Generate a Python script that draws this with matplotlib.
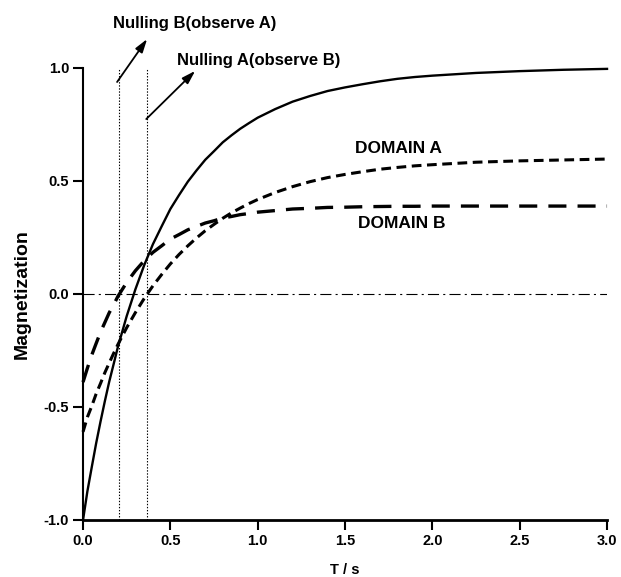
import matplotlib
matplotlib.use("Agg")
import matplotlib.pyplot as plt

# values
t_s = [0.0, 0.025, 0.05, 0.075, 0.1, 0.125, 0.15, 0.175, 0.2, 0.25, 0.3, 0.35, 0.4,
       0.45, 0.5, 0.55, 0.6, 0.65, 0.7, 0.75, 0.8, 0.85, 0.9, 0.95, 1.0, 1.1, 1.2,
       1.3, 1.4, 1.5, 1.6, 1.7, 1.8, 1.9, 2.0, 2.25, 2.5, 2.75, 3.0]
m_total = [-1.0, -0.873, -0.766, -0.661, -0.565, -0.474, -0.388, -0.311, -0.233,
           -0.098, 0.021, 0.127, 0.220, 0.299, 0.376, 0.438, 0.497, 0.547, 0.594,
           0.632, 0.671, 0.702, 0.731, 0.756, 0.780, 0.818, 0.851, 0.876, 0.898,
           0.914, 0.928, 0.941, 0.952, 0.960, 0.966, 0.978, 0.986, 0.992, 0.996]
m_domain_a = [-0.61, -0.545, -0.496, -0.442, -0.396, -0.348, -0.305, -0.263, -0.223,
              -0.149, -0.082, -0.020, 0.036, 0.086, 0.133, 0.175, 0.213, 0.248, 0.280,
              0.308, 0.335, 0.359, 0.380, 0.400, 0.418, 0.449, 0.475, 0.497, 0.515,
              0.529, 0.541, 0.552, 0.560, 0.567, 0.572, 0.583, 0.589, 0.593, 0.597]
m_domain_b = [-0.39, -0.328, -0.270, -0.219, -0.169, -0.126, -0.083, -0.048, -0.010,
              0.051, 0.103, 0.147, 0.184, 0.213, 0.243, 0.263, 0.284, 0.299, 0.314,
              0.324, 0.336, 0.343, 0.351, 0.356, 0.362, 0.369, 0.376, 0.379, 0.383,
              0.384, 0.386, 0.387, 0.388, 0.388, 0.389, 0.389, 0.389, 0.389, 0.389]
null_times = [0.208, 0.366]
y_ticks = [-1.0, -0.5, 0.0, 0.5, 1.0]
x_ticks = [0.0, 0.5, 1.0, 1.5, 2.0, 2.5, 3.0]

plt.rcParams["font.family"] = ["Liberation Sans", "DejaVu Sans"]
plt.rcParams["font.weight"] = "bold"
plt.rcParams["lines.scale_dashes"] = False

fig = plt.figure(figsize=(6.21, 5.77), dpi=100)
ax = fig.add_axes([0.1337, 0.0988, 0.8438, 0.7834])

# zero line and nulling markers
ax.plot([x_ticks[0], x_ticks[-1]], [0, 0], color="black", lw=0.8,
        dashes=(8, 3, 1.5, 3))
for tn in null_times:
    ax.plot([tn, tn], [y_ticks[0], y_ticks[-1]], color="black", lw=0.8,
            dashes=(1, 1.2), clip_on=False)

# curves
ax.plot(t_s, m_total, color="black", lw=1.7, clip_on=False)
ax.plot(t_s, m_domain_a, color="black", lw=2.2, dashes=(7, 4), clip_on=False)
ax.plot(t_s, m_domain_b, color="black", lw=2.4, dashes=(13, 8), clip_on=False)

ax.set_xlim(0, 3)
ax.set_ylim(-1, 1)
ax.set_xticks(x_ticks)
ax.set_yticks(y_ticks)
ax.set_xticklabels([f"{v:.1f}" for v in x_ticks])
ax.set_yticklabels([f"{v:.1f}" for v in y_ticks])
ax.spines["top"].set_visible(False)
ax.spines["right"].set_visible(False)
ax.spines["left"].set_linewidth(1.5)
ax.spines["bottom"].set_linewidth(2.0)
ax.tick_params(direction="out", length=7, width=1.5, labelsize=10.5, pad=3)

ax.set_xlabel("T / s", fontsize=10.5, fontweight="bold", labelpad=11)
ax.set_ylabel("Magnetization", fontsize=14, fontweight="bold", labelpad=9)

# labels and arrows
ax.text(1.559, 0.642, "DOMAIN A", fontsize=12.5, fontweight="bold", va="center")
ax.text(1.576, 0.314, "DOMAIN B", fontsize=12.5, fontweight="bold", va="center")

arrow = dict(arrowstyle="-|>,head_length=0.8,head_width=0.25", color="black",
             lw=1.3, shrinkA=0, shrinkB=0)
ax.annotate("", xy=(0.367, 1.128), xytext=(0.195, 0.938), arrowprops=arrow,
            annotation_clip=False)
ax.annotate("", xy=(0.642, 0.987), xytext=(0.362, 0.774), arrowprops=arrow,
            annotation_clip=False)
ax.text(0.172, 1.195, "Nulling B(observe A)", fontsize=12, fontweight="bold",
        va="center", clip_on=False)
ax.text(0.539, 1.031, "Nulling A(observe B)", fontsize=12, fontweight="bold",
        va="center", clip_on=False)

fig.savefig("out.png", dpi=100)
